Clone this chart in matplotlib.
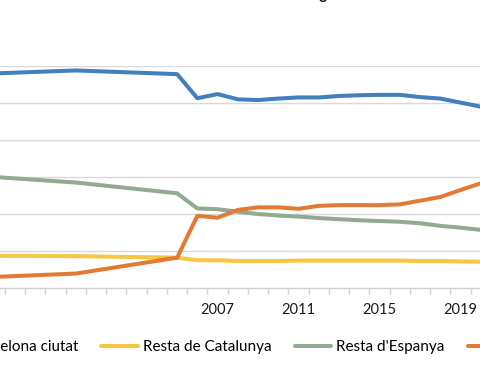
import matplotlib
matplotlib.use("Agg")
import matplotlib.pyplot as plt
import numpy as np

plt.rcParams['font.family'] = ['Lato', 'DejaVu Sans']
plt.rcParams['savefig.bbox'] = 'standard'

years = [1996, 2000, 2005, 2006, 2007, 2008, 2009, 2010, 2011, 2012, 2013,
         2014, 2015, 2016, 2017, 2018, 2019, 2020]
barcelona = [58.0, 58.8, 57.8, 51.3, 52.4, 51.0, 50.8, 51.2, 51.5, 51.5, 51.9,
             52.1, 52.2, 52.2, 51.6, 51.2, 50.1, 49.0]
catalunya = [8.7, 8.6, 8.2, 7.5, 7.5, 7.3, 7.3, 7.3, 7.4, 7.4, 7.4,
             7.4, 7.4, 7.4, 7.3, 7.3, 7.2, 7.1]
espanya = [30.0, 28.5, 25.6, 21.5, 21.3, 20.6, 20.0, 19.6, 19.3, 18.9, 18.6,
           18.3, 18.1, 17.9, 17.5, 16.8, 16.3, 15.7]
estranger = [3.0, 3.9, 8.2, 19.5, 19.0, 21.1, 21.8, 21.8, 21.4, 22.2, 22.4,
             22.4, 22.4, 22.6, 23.6, 24.6, 26.5, 28.3]
series_names = ["Barcelona ciutat", "Resta de Catalunya", "Resta d'Espanya", "Estranger"]
colors = ['#4180BD', '#F5C743', '#91AA91', '#E27A33']
label_years = [2007, 2011, 2015, 2019]
title = "Població de Barcelona segons lloc de naixement (%)"

W, H = 480, 370
fig = plt.figure(figsize=(W / 100, H / 100), dpi=100)
ax = fig.add_axes([0, (H - 288) / H, 1, 222 / H])

for vals, name, c in zip([barcelona, catalunya, espanya, estranger], series_names, colors):
    ax.plot(years, vals, color=c, lw=2.9, label=name, solid_capstyle='round',
            solid_joinstyle='round')

ax.set_yticks(np.arange(10, 61, 10))
ax.yaxis.grid(True, color='#D9D9D9', lw=1)
ax.tick_params(axis='y', length=0, labelleft=False)
ax.set_axisbelow(True)
for s in ['top', 'right', 'left']:
    ax.spines[s].set_visible(False)
ax.spines['bottom'].set_color('#D0D0D0')
ax.spines['bottom'].set_linewidth(1)

ax.set_xticks(label_years)
ax.set_xticklabels([str(y) for y in label_years], fontsize=10.5, color='#1a1a1a')
ax.tick_params(axis='x', which='major', length=0, pad=11)
ax.set_xticks(np.arange(1995.5, 2021, 1), minor=True)
ax.tick_params(axis='x', which='minor', length=4.5, color='#D0D0D0', width=1)
ax.set_xlim(1996.254, 2019.958)
ax.set_ylim(0, 60)

leg = fig.legend(loc='center left', bbox_to_anchor=(0, 0.062), ncol=4, frameon=False,
                 fontsize=11, handlelength=2.4, handletextpad=0.33, columnspacing=1.5)
for h in leg.get_lines():
    h.set_linewidth(2.9)
fig.canvas.draw()
r = fig.canvas.get_renderer()
bb = leg.get_texts()[1].get_window_extent(r)
dx = 143 - bb.x0
leg.set_bbox_to_anchor((dx / W, 0.062))

# title, cropped at the top edge like the reference
prefix = title[:title.index('(')]
tmp = fig.text(0, 0, prefix, fontsize=11, weight='bold')
pw = tmp.get_window_extent(r).width
tmp.remove()
fig.text((478 - pw) / W, 1.003, title, ha='left', va='baseline', fontsize=11,
         weight='bold', color='#1a1a1a')

fig.savefig('out.png', dpi=100)
